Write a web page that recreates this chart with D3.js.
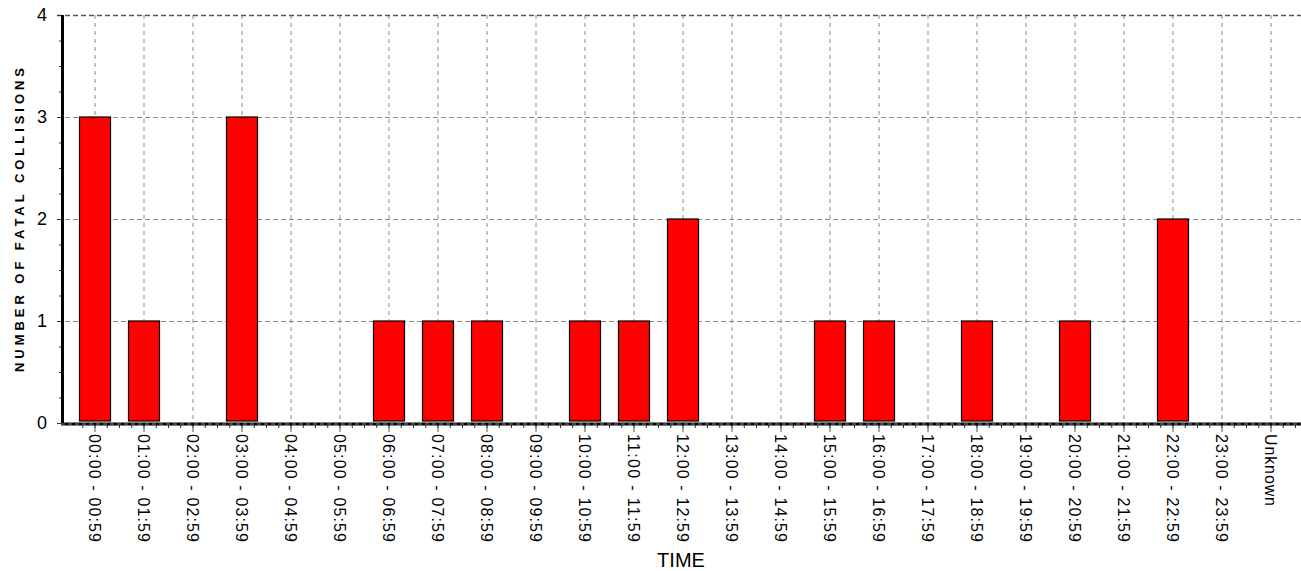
<!DOCTYPE html>
<html>
<head>
<meta charset="utf-8">
<script src="https://cdn.jsdelivr.net/npm/d3@7"></script>
<style>
  body { margin: 0; background: #fff; }
  text { font-family: "Liberation Sans Narrow", "Arial Narrow", "Liberation Sans", Arial, sans-serif; fill: #000; }
</style>
</head>
<body>
<div id="chart"></div>
<script>
// Fatal collisions by time of day

var hours = ["00:00 - 00:59", "01:00 - 01:59", "02:00 - 02:59", "03:00 - 03:59",
    "04:00 - 04:59", "05:00 - 05:59", "06:00 - 06:59", "07:00 - 07:59",
    "08:00 - 08:59", "09:00 - 09:59", "10:00 - 10:59", "11:00 - 11:59",
    "12:00 - 12:59", "13:00 - 13:59", "14:00 - 14:59", "15:00 - 15:59",
    "16:00 - 16:59", "17:00 - 17:59", "18:00 - 18:59", "19:00 - 19:59",
    "20:00 - 20:59", "21:00 - 21:59", "22:00 - 22:59", "23:00 - 23:59",
    "Unknown"];
var collisions = [3, 1, 0, 3, 0, 0, 1, 1, 1, 0, 1, 1, 2, 0, 0, 1, 1, 0, 1, 0, 1, 0, 2, 0, 0];
var yTicks = [0, 1, 2, 3, 4];

var WIDTH = 1301;
var HEIGHT = 571;

var LEFT = 62;
var TOP = 15;
var BOTTOM = 423;
var RIGHT = 1301;

var svg = d3.select("#chart").append("svg")
    .attr("width", WIDTH)
    .attr("height", HEIGHT);

var x = d3.scaleBand()
    .domain(hours)
    .range([70.5, 1295.5])
    .paddingInner(0.367)
    .paddingOuter(0.1835);

var y = d3.scaleLinear()
    .domain([0, 4])
    .range([BOTTOM, TOP]);

function cx(d) { return x(d) + x.bandwidth() / 2; }

// grid
svg.append("g")
    .selectAll("line")
    .data(hours)
    .enter()
    .append("line")
    .attr("x1", cx).attr("x2", cx)
    .attr("y1", TOP).attr("y2", BOTTOM)
    .attr("stroke", "#8a8a8a")
    .attr("stroke-dasharray", "4,4");

svg.append("g")
    .selectAll("line")
    .data(yTicks.slice(1))
    .enter()
    .append("line")
    .attr("x1", LEFT - 5).attr("x2", RIGHT)
    .attr("y1", function(d) { return y(d) + 0.5; })
    .attr("y2", function(d) { return y(d) + 0.5; })
    .attr("stroke", function(d) { return d == 4 ? "#555" : "#8a8a8a"; })
    .attr("stroke-width", function(d) { return d == 4 ? 1.5 : 1; })
    .attr("stroke-dasharray", "5,3");

// bars
svg.append("g")
    .selectAll("rect")
    .data(hours)
    .enter()
    .filter(function(d, i) { return collisions[i] > 0; })
    .append("rect")
    .attr("x", function(d) { return x(d); })
    .attr("y", function(d) { return y(collisions[hours.indexOf(d)]); })
    .attr("width", x.bandwidth())
    .attr("height", function(d) { return BOTTOM - 2 - y(collisions[hours.indexOf(d)]); })
    .attr("fill", "#ff0000")
    .attr("stroke", "#000")
    .attr("stroke-width", 1.2);

// y axis
var minorY = d3.range(0, 4.01, 0.25);
svg.append("g")
    .selectAll("line")
    .data(minorY)
    .enter()
    .append("line")
    .attr("x1", function(d) { return d % 1 == 0 ? LEFT - 5 : LEFT - 3; })
    .attr("x2", LEFT)
    .attr("y1", function(d) { return y(d) + 0.5; })
    .attr("y2", function(d) { return y(d) + 0.5; })
    .attr("stroke", "#333");

svg.append("line")
    .attr("x1", LEFT + 0.5).attr("x2", LEFT + 0.5)
    .attr("y1", TOP).attr("y2", BOTTOM + 2)
    .attr("stroke", "#000")
    .attr("stroke-width", 3);

svg.append("g")
    .selectAll("text")
    .data(yTicks)
    .enter()
    .append("text")
    .attr("x", 47)
    .attr("y", function(d) { return y(d); })
    .attr("dy", "0.36em")
    .attr("text-anchor", "end")
    .style("font-family", "'Liberation Sans', Arial, sans-serif")
    .style("font-size", "18px")
    .text(function(d) { return d; });

svg.append("text")
    .attr("transform", "translate(24," + 220 + ") rotate(-90)")
    .attr("text-anchor", "middle")
    .attr("textLength", 304)
    .attr("lengthAdjust", "spacing")
    .style("font-family", "'Liberation Sans', Arial, sans-serif")
    .style("font-size", "13px")
    .style("font-weight", "bold")
    .text("NUMBER OF FATAL COLLISIONS");

// x axis
var step = x.step();
var minorX = d3.range(-1, hours.length * 4 + 2).map(function(k) {
    return cx(hours[0]) + k * step / 4;
}).filter(function(v) { return v > LEFT && v < RIGHT; });

svg.append("g")
    .selectAll("line")
    .data(minorX)
    .enter()
    .append("line")
    .attr("x1", function(d) { return d; })
    .attr("x2", function(d) { return d; })
    .attr("y1", BOTTOM)
    .attr("y2", BOTTOM + 5)
    .attr("stroke", "#333");

svg.append("g")
    .selectAll("line")
    .data(hours)
    .enter()
    .append("line")
    .attr("x1", cx).attr("x2", cx)
    .attr("y1", BOTTOM)
    .attr("y2", BOTTOM + 9)
    .attr("stroke", "#555");

svg.append("line")
    .attr("x1", LEFT - 1).attr("x2", RIGHT)
    .attr("y1", BOTTOM + 1).attr("y2", BOTTOM + 1)
    .attr("stroke", "#000")
    .attr("stroke-width", 3);

svg.append("line")
    .attr("x1", LEFT - 1).attr("x2", RIGHT)
    .attr("y1", BOTTOM + 1).attr("y2", BOTTOM + 1)
    .attr("stroke", "#888")
    .attr("stroke-width", 1)
    .attr("stroke-dasharray", "4,3");

svg.append("g")
    .selectAll("text")
    .data(hours)
    .enter()
    .append("text")
    .attr("transform", function(d) { return "translate(" + cx(d) + "," + 434 + ") rotate(90)"; })
    .attr("dy", "0.36em")
    .attr("text-anchor", "start")
    .attr("textLength", function(d) { return d == "Unknown" ? 72 : 108; })
    .attr("lengthAdjust", "spacing")
    .style("font-size", "16px")
    .text(function(d) { return d; });

svg.append("text")
    .attr("x", 681)
    .attr("y", 567)
    .attr("text-anchor", "middle")
    .style("font-size", "20px")
    .text("TIME");
</script>
</body>
</html>
